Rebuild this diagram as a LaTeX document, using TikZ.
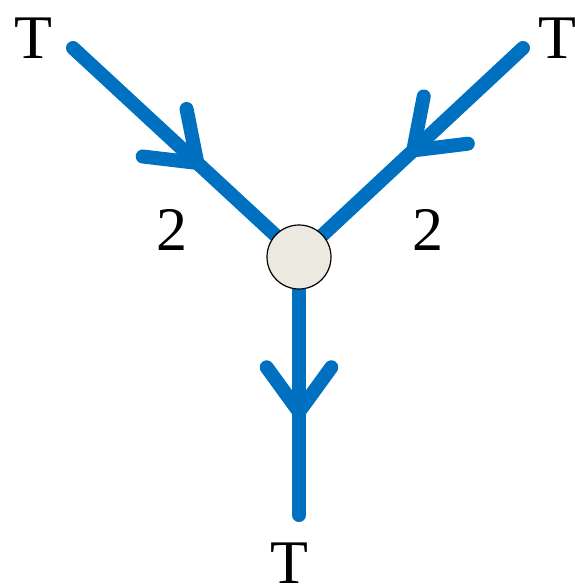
\documentclass[tikz,border=0pt]{standalone}
\usepackage{fontspec}
\setmainfont{Liberation Serif}
\usetikzlibrary{calc, backgrounds}
\definecolor{Blue}{HTML}{0070C0}
\definecolor{Cream}{HTML}{ECEAE0}
\tikzset{
    wire/.style={Blue, line width=14pt, line cap=round, line join=miter},
    vertex/.style={circle, draw=black, fill=Cream, line width=1.2pt, minimum size=64pt, inner sep=0pt},
    tag/.style={inner sep=0pt, font=\fontsize{62}{62}\selectfont}
}
\NewDocumentCommand{\Chevron}{m m}{
    \draw[wire] ($(#1)!55pt!36:(#2)$) -- (#1) -- ($(#1)!55pt!-36:(#2)$);
}

\begin{document}
\begin{tikzpicture}[x=1pt, y=-1pt]
\useasboundingbox (0,0) rectangle (574,588);

\coordinate (west-end) at (73,48);
\coordinate (east-end) at (523,48);
\coordinate (south-end) at (299,515);
\node[vertex] (v) at (299,257) {};

\begin{scope}[on background layer]
    \draw[wire] (west-end) -- (v.center);
    \draw[wire] (east-end) -- (v.center);
    \draw[wire] (v.center) -- (south-end);
\end{scope}

\coordinate (west-tip) at ($(west-end)!0.55!(v.center)$);
\coordinate (east-tip) at ($(east-end)!0.49!(v.center)$);
\coordinate (south-tip) at ($(v.center)!0.6!(south-end)$);

\Chevron{west-tip}{west-end}
\Chevron{east-tip}{east-end}
\Chevron{south-tip}{v.center}

\node[tag] (t-west) at (33,38) {T};
\node[tag] (t-east) at (557,38) {T};
\node[tag] (t-south) at (289,563) {T};
\node[tag] (n-west) at (172,230) {2};
\node[tag] (n-east) at (428,230) {2};

\end{tikzpicture}
\end{document}
